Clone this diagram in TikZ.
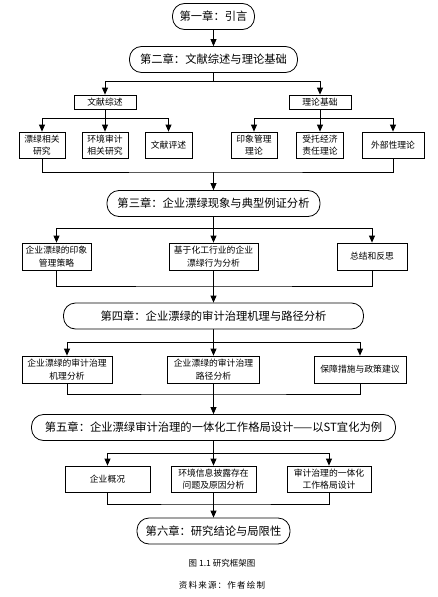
\documentclass[tikz,border=0pt]{standalone}
\usepackage{fontspec}
\setmainfont{Noto Sans CJK SC}
\newfontfamily\capfont[LetterSpace=14]{Noto Sans CJK SC}
\usepackage{tikz}
\usetikzlibrary{arrows.meta}
\pgfdeclarelayer{background}
\pgfsetlayers{background,main}

\begin{document}
\begin{tikzpicture}[x=1pt,y=-1pt,
					chapnode/.style={draw=black, line width=0.8pt, fill=white, rounded corners=12pt, minimum height=26pt, inner sep=0pt, font=\fontsize{11.3}{13}\selectfont},
					boxnode/.style={draw=black, line width=0.8pt, fill=white, minimum height=26pt, inner sep=0pt, align=center, font=\fontsize{8.8}{12.5}\selectfont},
					arr/.style={line width=0.8pt, -{Triangle[length=7pt,width=6pt]}},
					ln/.style={line width=0.8pt},
					]
					\useasboundingbox (0,0) rectangle (438,597);
					%Nodes
					\node[chapnode, minimum width=82pt]   (c1) at (213.5,16.5)   {第一章：引言};
					\node[chapnode, minimum width=168pt]  (c2) at (213.5,59.5)   {第二章：文献综述与理论基础};
					\node[boxnode, minimum width=62pt, minimum height=14pt] (a1) at (105,102) {文献综述};
					\node[boxnode, minimum width=62pt, minimum height=14pt] (a2) at (320,102) {理论基础};
					\node[boxnode, minimum width=46pt]    (b1) at (42,145)       {漂绿相关\\研究};
					\node[boxnode, minimum width=46pt]    (b2) at (105,145)      {环境审计\\相关研究};
					\node[boxnode, minimum width=47pt]    (b3) at (168.5,145)    {文献评述};
					\node[boxnode, minimum width=46pt]    (b4) at (254,145)      {印象管理\\理论};
					\node[boxnode, minimum width=47pt]    (b5) at (320,145)      {受托经济\\责任理论};
					\node[boxnode, minimum width=62pt]    (b6) at (393,145)      {外部性理论};
					\node[chapnode, minimum width=213pt]  (c3) at (213.5,203.5)  {第三章：企业漂绿现象与典型例证分析};
					\node[boxnode, minimum width=69pt, minimum height=27pt] (d1) at (56.5,256.5) {企业漂绿的印象\\管理策略};
					\node[boxnode, minimum width=89pt, minimum height=27pt] (d2) at (213.5,256.5) {基于化工行业的企业\\漂绿行为分析};
					\node[boxnode, minimum width=70pt, minimum height=27pt] (d3) at (372,256.5) {总结和反思};
					\node[chapnode, minimum width=300pt]  (c4) at (213.5,316)    {第四章：企业漂绿的审计治理机理与路径分析};
					\node[boxnode, minimum width=90pt, minimum height=27pt] (e1) at (67,369.5) {企业漂绿的审计治理\\机理分析};
					\node[boxnode, minimum width=92pt, minimum height=27pt] (e2) at (213.5,369.5) {企业漂绿的审计治理\\路径分析};
					\node[boxnode, minimum width=92pt, minimum height=27pt] (e3) at (360,369.5) {保障措施与政策建议};
					\node[chapnode, minimum width=364pt]  (c5) at (213.5,427.5)  {第五章：企业漂绿审计治理的一体化工作格局设计——以ST宜化为例};
					\node[boxnode, minimum width=85pt]    (f1) at (107.5,479)    {企业概况};
					\node[boxnode, minimum width=85pt]    (f2) at (213.5,479)    {环境信息披露存在\\问题及原因分析};
					\node[boxnode, minimum width=84pt]    (f3) at (329,479)      {审计治理的一体化\\工作格局设计};
					\node[chapnode, minimum width=153pt]  (c6) at (213.5,531)    {第六章：研究结论与局限性};
					\node[font=\fontsize{8.5}{10}\selectfont] (cap1) at (222,563) {图 1.1 研究框架图};
					\node[font=\fontsize{8.5}{10}\capfont] (cap2) at (222,585) {资料来源：作者绘制};
					
					%Junctions
					\coordinate (j1)  at (213.5,81);
					\coordinate (j2)  at (105,118);
					\coordinate (j3)  at (320,118);
					\coordinate (j4)  at (213.5,172);
					\coordinate (j5)  at (213.5,228);
					\coordinate (j6)  at (213.5,286);
					\coordinate (j7)  at (213.5,342);
					\coordinate (j8)  at (213.5,394);
					\coordinate (j9)  at (213.5,453);
					\coordinate (j10) at (213.5,504);
					
					\begin{pgfonlayer}{background}
					%Lines
					\draw[arr] (c1.south) -- (c2.north);
					\draw[ln] (c2.south) -- (j1);
					\draw[arr] (j1) -| (a1.north);
					\draw[arr] (j1) -| (a2.north);
					\draw[ln] (a1.south) -- (j2);
					\draw[arr] (j2) -| (b1.north);
					\draw[arr] (j2) -- (b2.north);
					\draw[arr] (j2) -| (b3.north);
					\draw[ln] (a2.south) -- (j3);
					\draw[arr] (j3) -| (b4.north);
					\draw[arr] (j3) -- (b5.north);
					\draw[arr] (j3) -| (b6.north);
					\draw[ln] (b1.south) |- (j4) -| (b6.south);
					\draw[arr] (j4) -- (c3.north);
					\draw[ln] (c3.south) -- (j5);
					\draw[arr] (j5) -| (d1.north);
					\draw[arr] (j5) -- (d2.north);
					\draw[arr] (j5) -| (d3.north);
					\draw[ln] (d1.south) |- (j6) -| (d3.south);
					\draw[ln] (d2.south) -- (j6);
					\draw[arr] (j6) -- (c4.north);
					\draw[ln] (c4.south) -- (j7);
					\draw[arr] (j7) -| (e1.north);
					\draw[arr] (j7) -- (e2.north);
					\draw[arr] (j7) -| (e3.north);
					\draw[ln] (e1.south) |- (j8) -| (e3.south);
					\draw[ln] (e2.south) -- (j8);
					\draw[arr] (j8) -- (c5.north);
					\draw[ln] (c5.south) -- (j9);
					\draw[arr] (j9) -| (f1.north);
					\draw[arr] (j9) -- (f2.north);
					\draw[arr] (j9) -| (f3.north);
					\draw[ln] (f1.south) |- (j10) -| (f3.south);
					\draw[ln] (f2.south) -- (j10);
					\draw[arr] (j10) -- (c6.north);
					\end{pgfonlayer}
\end{tikzpicture}
\end{document}
